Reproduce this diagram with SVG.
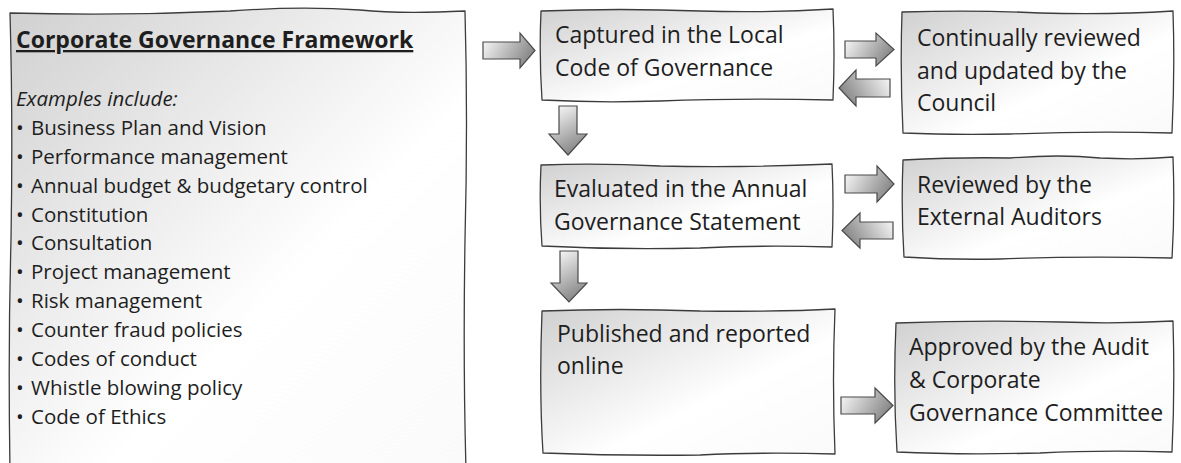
<svg xmlns="http://www.w3.org/2000/svg" width="1181" height="463" viewBox="0 0 1181 463">
<style>
.box{fill:url(#gBox);stroke:#3c3c3c;stroke-width:1.3;stroke-linejoin:round}
.arr{stroke:#4a4a4a;stroke-width:1.2;stroke-linejoin:miter}
.t{font-family:"Open Sans","Noto Sans",sans-serif;fill:#1e1e1e}
.bt{font-size:23px}
.lt{font-size:20.5px}
.ttl{font-size:23px;font-weight:bold;text-decoration:underline}
.it{font-style:italic}
</style>
<defs>
<linearGradient id="gBox" x1="0" y1="0" x2="1" y2="1">
<stop offset="0" stop-color="#d0d0d0"/>
<stop offset="0.6" stop-color="#ffffff"/>
<stop offset="1" stop-color="#fafafa"/>
</linearGradient>
<linearGradient id="gR" x1="0" y1="0" x2="1" y2="0.4">
<stop offset="0" stop-color="#ffffff"/>
<stop offset="1" stop-color="#8a8a8a"/>
</linearGradient>
<linearGradient id="gL" x1="1" y1="0" x2="0" y2="0.4">
<stop offset="0" stop-color="#ffffff"/>
<stop offset="1" stop-color="#8a8a8a"/>
</linearGradient>
<linearGradient id="gD" x1="0" y1="0" x2="0.4" y2="1">
<stop offset="0" stop-color="#ffffff"/>
<stop offset="1" stop-color="#8a8a8a"/>
</linearGradient>
</defs>

<g id="framework">
<path class="box" d="M10,13 Q120,16 230,11 Q300,6 360,10 Q400,14 465,11 Q468,120 465,240 Q463,360 466,470 Q420,470 383,465 Q340,470 260,469 Q210,470 167,465 Q120,470 10,470 Q8,350 11,240 Q13,120 10,13 Z"/>
<text class="t ttl" x="16" y="48">Corporate Governance Framework</text>
<text class="t lt it" x="16" y="106">Examples include:</text>
<g class="t lt">
<text x="16" y="135">•<tspan x="31">Business Plan and Vision</tspan></text>
<text x="16" y="164">•<tspan x="31">Performance management</tspan></text>
<text x="16" y="193">•<tspan x="31">Annual budget &amp; budgetary control</tspan></text>
<text x="16" y="222">•<tspan x="31">Constitution</tspan></text>
<text x="16" y="250">•<tspan x="31">Consultation</tspan></text>
<text x="16" y="279">•<tspan x="31">Project management</tspan></text>
<text x="16" y="308">•<tspan x="31">Risk management</tspan></text>
<text x="16" y="337">•<tspan x="31">Counter fraud policies</tspan></text>
<text x="16" y="366">•<tspan x="31">Codes of conduct</tspan></text>
<text x="16" y="395">•<tspan x="31">Whistle blowing policy</tspan></text>
<text x="16" y="424">•<tspan x="31">Code of Ethics</tspan></text>
</g>
</g>

<g id="captured">
<path class="box" d="M541,11 Q620,8 700,11 Q770,13 833,9 Q835,55 833,100 Q740,98 660,101 Q600,103 542,100 Q539,55 541,11 Z"/>
<text class="t bt" x="555" y="43">Captured in the Local</text>
<text class="t bt" x="555" y="76">Code of Governance</text>
</g>

<g id="council">
<path class="box" d="M902,12 Q980,10 1040,13 Q1110,15 1173,11 Q1175,70 1172,133 Q1090,131 1010,134 Q950,135 903,133 Q900,70 902,12 Z"/>
<text class="t bt" x="917" y="46">Continually reviewed</text>
<text class="t bt" x="917" y="79">and updated by the</text>
<text class="t bt" x="917" y="111">Council</text>
</g>

<g id="evaluated">
<path class="box" d="M541,165 Q600,163 660,166 Q740,168 832,164 Q834,205 832,247 Q760,245 700,248 Q620,250 542,246 Q539,205 541,165 Z"/>
<text class="t bt" x="554" y="197">Evaluated in the Annual</text>
<text class="t bt" x="554" y="230">Governance Statement</text>
</g>

<g id="auditors">
<path class="box" d="M903,160 Q960,157 1010,158 Q1060,154 1100,158 Q1140,160 1173,157 Q1175,210 1172,258 Q1080,256 1000,259 Q950,260 904,257 Q901,210 903,160 Z"/>
<text class="t bt" x="917" y="193">Reviewed by the</text>
<text class="t bt" x="917" y="225">External Auditors</text>
</g>

<g id="published">
<path class="box" d="M542,311 Q620,308 700,311 Q780,312 835,309 Q832,380 835,454 Q760,452 700,455 Q620,456 543,453 Q539,390 542,311 Z"/>
<text class="t bt" x="557" y="342">Published and reported</text>
<text class="t bt" x="557" y="374">online</text>
</g>

<g id="approved">
<path class="box" d="M896,323 Q980,320 1060,322 Q1120,324 1173,321 Q1175,390 1172,452 Q1100,450 1040,453 Q960,455 897,452 Q893,390 896,323 Z"/>
<text class="t bt" x="909" y="355">Approved by the Audit</text>
<text class="t bt" x="909" y="388">&amp; Corporate</text>
<text class="t bt" x="909" y="421">Governance Committee</text>
</g>

<g id="connectors">
<path class="arr" fill="url(#gR)" d="M483,42 L520,42 L520,33 L535,50.5 L520,68 L520,59 L483,59 Z"/>
<path class="arr" fill="url(#gD)" d="M559,106 L577,106 L577,134 L587,134 L568,155 L549,134 L559,134 Z"/>
<path class="arr" fill="url(#gR)" d="M845,41 L876,41 L876,33 L894,49.5 L876,66 L876,58 L845,58 Z"/>
<path class="arr" fill="url(#gL)" d="M890,79 L856,79 L856,70 L839,88 L856,106 L856,97 L890,97 Z"/>
<path class="arr" fill="url(#gD)" d="M560,251 L578,251 L578,283 L587,283 L569,302 L551,283 L560,283 Z"/>
<path class="arr" fill="url(#gR)" d="M845,175 L877,175 L877,166 L894,184 L877,202 L877,193 L845,193 Z"/>
<path class="arr" fill="url(#gL)" d="M893,222 L860,222 L860,213 L842,230.5 L860,248 L860,239 L893,239 Z"/>
<path class="arr" fill="url(#gR)" d="M841,397 L875,397 L875,388 L893,405.5 L875,423 L875,414 L841,414 Z"/>
</g>
</svg>
